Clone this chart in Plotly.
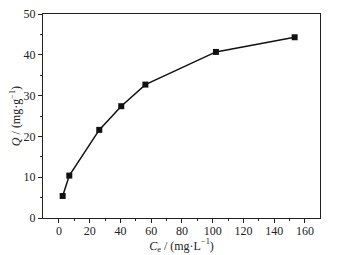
import plotly.graph_objects as go

ce = [2.4, 6.7, 26.2, 40.5, 56.2, 102.1, 153.3]
q = [5.4, 10.4, 21.6, 27.4, 32.7, 40.7, 44.3]

fig = go.Figure()
fig.add_trace(go.Scatter(
    x=ce, y=q, mode="lines+markers",
    line=dict(color="#111111", width=1.5),
    marker=dict(symbol="square", size=6, color="#111111"),
    showlegend=False,
))

axis_font = dict(family="Liberation Serif", size=12, color="#222222")
fig.update_xaxes(
    range=[-10.4, 169.8], tickvals=[0, 20, 40, 60, 80, 100, 120, 140, 160],
    ticks="outside", ticklen=4, tickwidth=1, tickcolor="#222222",
    minor=dict(tickvals=[10, 30, 50, 70, 90, 110, 130, 150], ticks="outside", ticklen=2, tickcolor="#222222"),
    showline=True, linecolor="#222222", linewidth=1.2, mirror=True,
    showgrid=False, zeroline=False, tickfont=axis_font, automargin=False,
    ticklabeloverflow="allow", ticklabelstandoff=-3,
    title=dict(text="<i>C</i><sub>e</sub> / (mg·L<sup>−1</sup>)", font=axis_font, standoff=2),
)
fig.update_yaxes(
    range=[0, 50], tickvals=[0, 10, 20, 30, 40, 50],
    ticks="outside", ticklen=4, tickwidth=1, tickcolor="#222222",
    minor=dict(tickvals=[5, 15, 25, 35, 45], ticks="outside", ticklen=2, tickcolor="#222222"),
    showline=True, linecolor="#222222", linewidth=1.2, mirror=True,
    showgrid=False, zeroline=False, tickfont=axis_font, automargin=False,
    ticklabeloverflow="allow",
    title=dict(text="<i>Q</i> / (mg·g<sup>−1</sup>)", font=axis_font, standoff=0),
)
# page body has an 8px margin, so the figure is a bit smaller than the window
fig.update_layout(
    width=330, height=247,
    margin=dict(l=35, r=18, t=6, b=37),
    paper_bgcolor="white", plot_bgcolor="white",
)
fig.write_html("out.html")
